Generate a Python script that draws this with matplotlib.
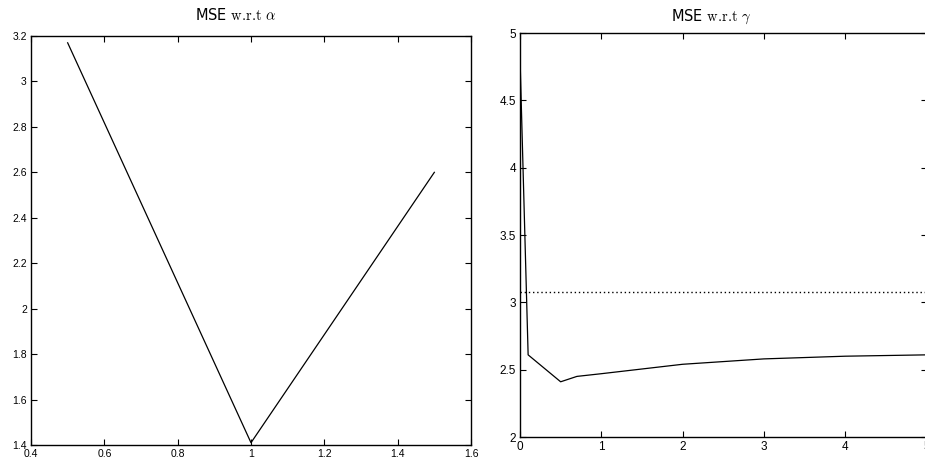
import matplotlib
matplotlib.use("Agg")
import matplotlib.pyplot as plt
from matplotlib.ticker import FuncFormatter, MultipleLocator

# data
alpha = [0.5, 1.0, 1.5]
mse_alpha = [3.17, 1.41, 2.60]

gamma = [0, 0.1, 0.5, 0.7, 1, 2, 3, 4, 5]
mse_gamma = [4.82, 2.61, 2.41, 2.45, 2.47, 2.54, 2.58, 2.60, 2.61]
baseline_gamma = 3.075

titles = [r"MSE $\mathrm{w.\!r.\!t}\ \alpha$", r"MSE $\mathrm{w.\!r.\!t}\ \gamma$"]

plt.rcParams['mathtext.fontset'] = 'cm'
plt.rcParams['font.family'] = ['DejaVu Sans']

W, H = 925, 465
fig = plt.figure(figsize=(W / 100, H / 100), dpi=100)

def px_axes(l, t, r, b):
    return fig.add_axes([l / W, 1 - b / H, (r - l) / W, (b - t) / H])

ax1 = px_axes(31, 36, 471, 445)
ax2 = px_axes(520, 33, 926.5, 437)

fmt = FuncFormatter(lambda v, p: "%g" % round(v, 6))

ax1.plot(alpha, mse_alpha, color='black', lw=0.9)
ax1.set_xlim(0.4, 1.6)
ax1.set_ylim(1.4, 3.2)
ax1.xaxis.set_major_locator(MultipleLocator(0.2))
ax1.yaxis.set_major_locator(MultipleLocator(0.2))

ax2.plot(gamma, mse_gamma, color='black', lw=0.9)
ax2.axhline(baseline_gamma, color='black', lw=1.0, linestyle=(0, (1, 2)))
ax2.set_xlim(0, 5)
ax2.set_ylim(2, 5)
ax2.xaxis.set_major_locator(MultipleLocator(1))
ax2.yaxis.set_major_locator(MultipleLocator(0.5))

for ax, fs in ((ax1, 7.5), (ax2, 8.5)):
    ax.xaxis.set_major_formatter(fmt)
    ax.yaxis.set_major_formatter(fmt)
    ax.tick_params(direction='in', length=4, width=0.8, top=True, right=True,
                   labelsize=fs, pad=3)
    for lab in ax.get_xticklabels() + ax.get_yticklabels():
        lab.set_fontfamily('Liberation Sans')
    for s in ax.spines.values():
        s.set_linewidth(1.0)

fig.text(236 / W, 1 - 20.5 / H, titles[0], ha='center', va='baseline', fontsize=10.5)
fig.text(711 / W, 1 - 20.5 / H, titles[1], ha='center', va='baseline', fontsize=10.5)

fig.savefig("out.png", dpi=100)
